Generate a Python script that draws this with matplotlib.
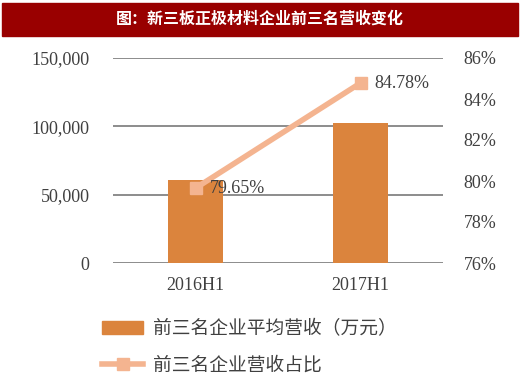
import numpy as np
import matplotlib.pyplot as plt
from matplotlib.patches import Rectangle
from matplotlib.lines import Line2D

plt.rcParams['font.family'] = ['Liberation Serif', 'Noto Sans CJK SC']

title = '图：新三板正极材料企业前三名营收变化'
categories = ['2016H1', '2017H1']
revenue = [61000, 102600]
share = [79.65, 84.78]
share_labels = ['79.65%', '84.78%']
bar_name = '前三名企业平均营收（万元）'
line_name = '前三名企业营收占比'

bar_color = '#DB843D'
line_color = '#F4B490'
text_color = '#404040'

fig = plt.figure(figsize=(5.2, 3.79), dpi=100)
W, H = 520, 379

# banner
fig.patches.append(Rectangle((2 / W, 1 - 36 / H), 516 / W, 33 / H,
                             transform=fig.transFigure, color='#990000', zorder=0))
fig.text(260 / W, 1 - 19 / H, title, color='white', fontsize=11.5, fontweight='bold',
         ha='center', va='center', family=['Noto Sans CJK SC'])

ax = fig.add_axes([113 / W, 1 - 263 / H, 330 / W, 205 / H])
x = np.arange(len(categories))
ax.bar(x, revenue, width=0.33, color=bar_color, zorder=2)
ax.set_xlim(-0.5, 1.5)
ax.set_ylim(0, 150000)
ax.set_yticks([0, 50000, 100000, 150000])
ax.set_yticklabels(['0', '50,000', '100,000', '150,000'])
ax.yaxis.grid(True, color='#8c8c8c', linewidth=1.4, zorder=0)
ax.set_axisbelow(True)
for s in ax.spines.values():
    s.set_visible(False)
ax.tick_params(axis='both', length=0, labelsize=13, colors=text_color, pad=17)
ax.tick_params(axis='x', pad=10)
ax.set_xticks(x)
ax.set_xticklabels(categories)

ax2 = ax.twinx()
ax2.plot(x, share, color=line_color, linewidth=4, marker='s', markersize=9, zorder=3)
ax2.set_ylim(76, 86)
ax2.set_yticks(np.arange(76, 87, 2))
ax2.set_yticklabels(['%d%%' % v for v in range(76, 87, 2)])
for s in ax2.spines.values():
    s.set_visible(False)
ax2.tick_params(axis='y', length=0, labelsize=13, colors=text_color, pad=15)
for xi, yi, lab in zip(x, share, share_labels):
    ax2.annotate(lab, (xi, yi), xytext=(10, 0), textcoords='offset points',
                 ha='left', va='center', fontsize=13, color=text_color)

# legend
handles = [Rectangle((0, 0), 1, 1, color=bar_color),
           Line2D([], [], color=line_color, linewidth=4, marker='s', markersize=9)]
fig.legend(handles, [bar_name, line_name], loc='upper left',
           bbox_to_anchor=(102 / W, 1 - 318 / H), frameon=False,
           borderpad=0, borderaxespad=0,
           handlelength=2.2, labelspacing=0.85, handletextpad=0.5,
           labelcolor=text_color, prop={'family': ['Noto Sans CJK SC'], 'size': 13.5})

fig.savefig('out.png', dpi=100)
